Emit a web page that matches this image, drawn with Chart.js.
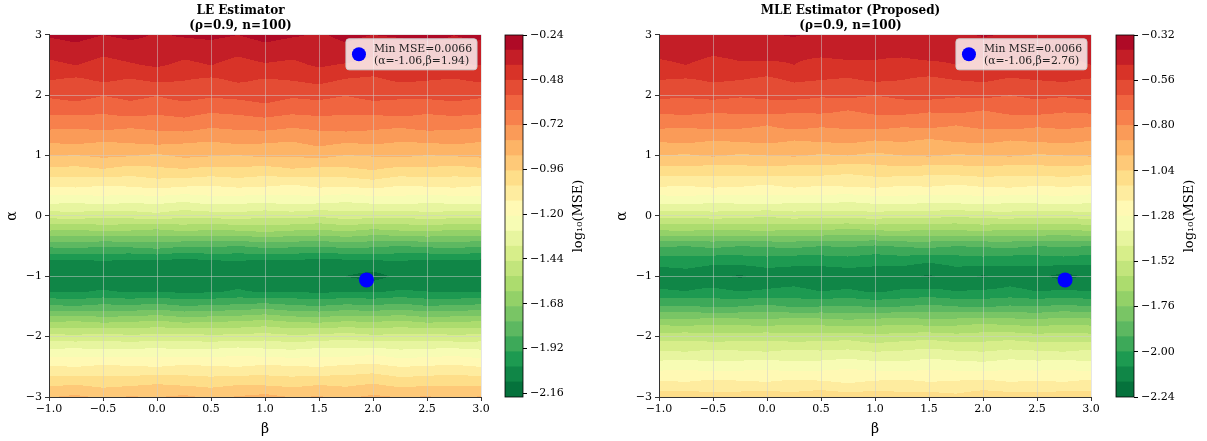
<!DOCTYPE html>
<html>
<head>
<meta charset="utf-8">
<script src="https://cdn.jsdelivr.net/npm/chart.js@4.4.0/dist/chart.umd.min.js"></script>
<style>
  body { margin: 0; background: #fff; }
  #wrap { position: relative; width: 1207px; height: 441px; overflow: hidden; }
  canvas { position: absolute; top: 0; }
</style>
</head>
<body>
<div id="wrap">
  <canvas id="leChart" width="530" height="441" style="left:0px"></canvas>
  <canvas id="mleChart" width="530" height="441" style="left:610px"></canvas>
  <canvas id="leBar" width="110" height="441" style="left:480px"></canvas>
  <canvas id="mleBar" width="117" height="441" style="left:1090px"></canvas>
</div>
<script>
// grid of the two surfaces, log10(MSE), rows = alpha, columns = beta
var betas = [-1, -0.75, -0.5, -0.25, 0, 0.25, 0.5, 0.75, 1, 1.25, 1.5, 1.75, 2, 2.25, 2.5, 2.75, 3];
var alphas = [3, 2.75, 2.5, 2.25, 2, 1.75, 1.5, 1.25, 1, 0.75, 0.5, 0.25, 0,
  -0.25, -0.5, -0.75, -1, -1.25, -1.5, -1.75, -2, -2.25, -2.5, -2.75, -3];

var leMse = [
  [-0.31, -0.29, -0.32, -0.30, -0.33, -0.31, -0.30, -0.32, -0.29, -0.31, -0.33, -0.30, -0.32, -0.31, -0.29, -0.32, -0.30],
  [-0.37, -0.35, -0.38, -0.36, -0.34, -0.37, -0.36, -0.38, -0.35, -0.37, -0.36, -0.34, -0.38, -0.36, -0.37, -0.35, -0.36],
  [-0.42, -0.40, -0.43, -0.41, -0.39, -0.42, -0.40, -0.43, -0.41, -0.42, -0.39, -0.41, -0.43, -0.40, -0.42, -0.41, -0.40],
  [-0.48, -0.50, -0.47, -0.49, -0.47, -0.48, -0.50, -0.47, -0.49, -0.48, -0.46, -0.49, -0.50, -0.47, -0.48, -0.49, -0.47],
  [-0.55, -0.53, -0.56, -0.54, -0.56, -0.53, -0.55, -0.54, -0.52, -0.55, -0.54, -0.56, -0.53, -0.55, -0.54, -0.53, -0.55],
  [-0.62, -0.61, -0.63, -0.60, -0.62, -0.61, -0.63, -0.62, -0.60, -0.62, -0.61, -0.63, -0.62, -0.60, -0.63, -0.61, -0.62],
  [-0.70, -0.71, -0.69, -0.71, -0.70, -0.68, -0.71, -0.70, -0.69, -0.71, -0.70, -0.68, -0.70, -0.71, -0.69, -0.70, -0.71],
  [-0.79, -0.78, -0.80, -0.79, -0.77, -0.79, -0.80, -0.78, -0.79, -0.80, -0.77, -0.79, -0.78, -0.80, -0.79, -0.78, -0.80],
  [-0.88, -0.89, -0.87, -0.88, -0.90, -0.87, -0.88, -0.89, -0.87, -0.88, -0.86, -0.89, -0.88, -0.87, -0.89, -0.88, -0.87],
  [-0.99, -1.00, -0.98, -1.01, -0.99, -0.98, -1.00, -0.99, -1.01, -0.98, -1.00, -0.99, -0.97, -1.00, -0.99, -1.01, -0.99],
  [-1.12, -1.11, -1.13, -1.12, -1.10, -1.12, -1.13, -1.11, -1.12, -1.14, -1.11, -1.12, -1.10, -1.13, -1.12, -1.11, -1.13],
  [-1.26, -1.27, -1.25, -1.27, -1.26, -1.28, -1.25, -1.26, -1.27, -1.25, -1.26, -1.28, -1.26, -1.25, -1.27, -1.26, -1.25],
  [-1.42, -1.41, -1.43, -1.42, -1.40, -1.43, -1.42, -1.41, -1.43, -1.42, -1.44, -1.41, -1.42, -1.43, -1.41, -1.42, -1.43],
  [-1.62, -1.63, -1.61, -1.62, -1.64, -1.61, -1.63, -1.62, -1.60, -1.62, -1.63, -1.61, -1.64, -1.62, -1.61, -1.63, -1.62],
  [-1.84, -1.83, -1.85, -1.84, -1.82, -1.85, -1.84, -1.86, -1.83, -1.84, -1.85, -1.83, -1.84, -1.86, -1.84, -1.83, -1.85],
  [-2.03, -2.04, -2.02, -2.04, -2.03, -2.05, -2.03, -2.02, -2.04, -2.03, -2.05, -2.04, -2.03, -2.02, -2.04, -2.03, -2.04],
  [-2.07, -2.06, -2.08, -2.07, -2.06, -2.08, -2.07, -2.06, -2.08, -2.07, -2.09, -2.10, -2.13, -2.08, -2.07, -2.06, -2.07],
  [-2.02, -2.03, -2.01, -2.03, -2.02, -2.04, -2.03, -2.01, -2.03, -2.02, -2.04, -2.02, -2.03, -2.01, -2.02, -2.03, -2.02],
  [-1.84, -1.85, -1.83, -1.84, -1.82, -1.85, -1.84, -1.83, -1.81, -1.84, -1.85, -1.83, -1.84, -1.82, -1.85, -1.84, -1.83],
  [-1.62, -1.61, -1.63, -1.62, -1.60, -1.63, -1.62, -1.61, -1.59, -1.62, -1.63, -1.61, -1.62, -1.60, -1.63, -1.62, -1.61],
  [-1.42, -1.43, -1.41, -1.43, -1.42, -1.41, -1.43, -1.42, -1.41, -1.43, -1.42, -1.40, -1.43, -1.42, -1.41, -1.43, -1.42],
  [-1.26, -1.25, -1.27, -1.26, -1.25, -1.27, -1.26, -1.24, -1.26, -1.27, -1.25, -1.26, -1.24, -1.27, -1.26, -1.25, -1.27],
  [-1.12, -1.13, -1.11, -1.12, -1.13, -1.11, -1.12, -1.13, -1.11, -1.12, -1.13, -1.11, -1.10, -1.13, -1.12, -1.11, -1.13],
  [-1.00, -0.99, -1.01, -1.00, -0.98, -1.00, -1.01, -0.99, -1.00, -1.01, -0.99, -1.00, -0.98, -1.01, -1.00, -0.99, -1.00],
  [-0.89, -0.87, -0.90, -0.88, -0.89, -0.87, -0.90, -0.88, -0.86, -0.89, -0.88, -0.90, -0.87, -0.89, -0.88, -0.90, -0.88]
];

var mleMse = [
  [-0.41, -0.43, -0.40, -0.42, -0.41, -0.39, -0.42, -0.40, -0.43, -0.41, -0.40, -0.42, -0.39, -0.41, -0.43, -0.40, -0.42],
  [-0.45, -0.44, -0.46, -0.45, -0.43, -0.46, -0.45, -0.44, -0.46, -0.45, -0.43, -0.45, -0.46, -0.44, -0.45, -0.47, -0.45],
  [-0.50, -0.48, -0.51, -0.49, -0.50, -0.48, -0.51, -0.50, -0.49, -0.51, -0.50, -0.48, -0.50, -0.51, -0.49, -0.50, -0.48],
  [-0.56, -0.57, -0.55, -0.56, -0.58, -0.55, -0.56, -0.57, -0.55, -0.56, -0.58, -0.56, -0.55, -0.57, -0.56, -0.55, -0.57],
  [-0.62, -0.63, -0.61, -0.63, -0.62, -0.61, -0.63, -0.62, -0.64, -0.62, -0.61, -0.63, -0.62, -0.64, -0.62, -0.63, -0.61],
  [-0.70, -0.69, -0.71, -0.70, -0.69, -0.71, -0.70, -0.72, -0.70, -0.69, -0.71, -0.70, -0.72, -0.70, -0.69, -0.71, -0.70],
  [-0.78, -0.79, -0.77, -0.78, -0.80, -0.77, -0.79, -0.78, -0.77, -0.79, -0.78, -0.80, -0.78, -0.77, -0.79, -0.78, -0.79],
  [-0.87, -0.86, -0.88, -0.87, -0.86, -0.88, -0.87, -0.86, -0.88, -0.87, -0.89, -0.87, -0.86, -0.88, -0.87, -0.86, -0.88],
  [-0.96, -0.97, -0.95, -0.97, -0.96, -0.95, -0.97, -0.96, -0.98, -0.96, -0.95, -0.97, -0.96, -0.95, -0.97, -0.96, -0.95],
  [-1.08, -1.07, -1.09, -1.08, -1.07, -1.09, -1.08, -1.10, -1.08, -1.07, -1.09, -1.08, -1.07, -1.09, -1.08, -1.07, -1.09],
  [-1.19, -1.20, -1.18, -1.19, -1.21, -1.18, -1.20, -1.19, -1.18, -1.20, -1.19, -1.21, -1.19, -1.18, -1.20, -1.19, -1.20],
  [-1.33, -1.32, -1.34, -1.33, -1.32, -1.34, -1.33, -1.35, -1.33, -1.32, -1.34, -1.33, -1.32, -1.34, -1.33, -1.32, -1.34],
  [-1.49, -1.50, -1.48, -1.49, -1.51, -1.48, -1.50, -1.49, -1.48, -1.50, -1.49, -1.51, -1.49, -1.48, -1.50, -1.49, -1.48],
  [-1.69, -1.68, -1.70, -1.69, -1.68, -1.70, -1.69, -1.71, -1.69, -1.68, -1.70, -1.69, -1.68, -1.70, -1.69, -1.70, -1.68],
  [-1.91, -1.92, -1.90, -1.92, -1.91, -1.90, -1.92, -1.91, -1.93, -1.91, -1.90, -1.92, -1.91, -1.90, -1.92, -1.91, -1.92],
  [-2.05, -2.04, -2.06, -2.05, -2.04, -2.06, -2.05, -2.04, -2.06, -2.05, -2.07, -2.05, -2.04, -2.06, -2.05, -2.04, -2.06],
  [-2.13, -2.12, -2.14, -2.17, -2.13, -2.12, -2.14, -2.13, -2.12, -2.14, -2.17, -2.13, -2.17, -2.12, -2.14, -2.19, -2.14],
  [-2.07, -2.08, -2.06, -2.08, -2.07, -2.06, -2.08, -2.07, -2.09, -2.07, -2.06, -2.08, -2.07, -2.06, -2.08, -2.07, -2.08],
  [-1.92, -1.91, -1.93, -1.92, -1.90, -1.93, -1.92, -1.91, -1.93, -1.92, -1.90, -1.92, -1.93, -1.91, -1.92, -1.90, -1.92],
  [-1.72, -1.73, -1.71, -1.72, -1.73, -1.71, -1.72, -1.74, -1.72, -1.71, -1.73, -1.72, -1.70, -1.72, -1.73, -1.71, -1.72],
  [-1.56, -1.55, -1.57, -1.56, -1.55, -1.57, -1.56, -1.55, -1.58, -1.56, -1.55, -1.57, -1.56, -1.55, -1.57, -1.56, -1.57],
  [-1.43, -1.44, -1.42, -1.43, -1.44, -1.42, -1.43, -1.42, -1.44, -1.43, -1.41, -1.43, -1.44, -1.42, -1.43, -1.44, -1.42],
  [-1.31, -1.30, -1.32, -1.31, -1.30, -1.32, -1.31, -1.29, -1.31, -1.32, -1.30, -1.31, -1.32, -1.30, -1.31, -1.30, -1.32],
  [-1.19, -1.20, -1.18, -1.19, -1.20, -1.18, -1.19, -1.21, -1.19, -1.18, -1.20, -1.19, -1.18, -1.20, -1.19, -1.20, -1.18],
  [-1.08, -1.07, -1.09, -1.08, -1.07, -1.09, -1.06, -1.08, -1.07, -1.09, -1.08, -1.10, -1.07, -1.08, -1.09, -1.07, -1.08]
];

// minimum found on each surface: [beta, alpha]
var leMinPoint = [1.94, -1.06];
var mleMinPoint = [2.76, -1.06];
var leMinMse = 0.0066;
var mleMinMse = 0.0066;

// colour bar ranges and ticks
var leRange = [-2.18, -0.24];
var mleRange = [-2.24, -0.32];
var leCbTicks = [-0.24, -0.48, -0.72, -0.96, -1.20, -1.44, -1.68, -1.92, -2.16];
var mleCbTicks = [-0.32, -0.56, -0.80, -1.04, -1.28, -1.52, -1.76, -2.00, -2.24];

var nBands = 24;

Chart.defaults.font.family = '"DejaVu Serif", serif';
Chart.defaults.color = '#000';

// RdYlGn colour map
var rdylgn = ['#a50026', '#d73027', '#f46d43', '#fdae61', '#fee08b', '#ffffbf',
  '#d9ef8b', '#a6d96a', '#66bd63', '#1a9850', '#006837'];

function hexRgb(h) {
  return [parseInt(h.substr(1, 2), 16), parseInt(h.substr(3, 2), 16), parseInt(h.substr(5, 2), 16)];
}

function cmap(p) {
  var s = Math.max(0, Math.min(1, p)) * 10;
  var i = Math.min(9, Math.floor(s));
  var f = s - i;
  var a = hexRgb(rdylgn[i]), b = hexRgb(rdylgn[i + 1]);
  return [0, 1, 2].map(function (k) { return Math.round(a[k] + (b[k] - a[k]) * f); });
}

// colour of each band, lowest value first (low -> green)
function bandColors() {
  var out = [];
  for (var k = 0; k < nBands; k++) {
    out.push(cmap(1 - (k + 0.5) / nBands));
  }
  return out;
}

function fmt(v, d) {
  var s = Math.abs(v).toFixed(d);
  return (v < -1e-9 ? '\u2212' : '') + s;
}

function locate(arr, v) {
  for (var i = 0; i < arr.length - 1; i++) {
    var a = arr[i], b = arr[i + 1];
    if ((v - a) * (v - b) <= 0) return [i, (v - a) / (b - a)];
  }
  return v * Math.sign(arr[1] - arr[0]) < arr[0] * Math.sign(arr[1] - arr[0]) ? [0, 0] : [arr.length - 2, 1];
}

function contourPlugin(z, range) {
  var cols = bandColors();
  return {
    id: 'contour',
    beforeDraw: function (chart) {
      var area = chart.chartArea, xs = chart.scales.x, ys = chart.scales.y;
      var x0 = Math.round(area.left), y0 = Math.round(area.top);
      var w = Math.round(area.right) - x0, h = Math.round(area.bottom) - y0;
      var img = chart.ctx.createImageData(w, h);
      var colLoc = [];
      for (var px = 0; px < w; px++) colLoc.push(locate(betas, xs.getValueForPixel(x0 + px + 0.5)));
      for (var py = 0; py < h; py++) {
        var r = locate(alphas, ys.getValueForPixel(y0 + py + 0.5));
        var ri = r[0], rf = r[1];
        for (px = 0; px < w; px++) {
          var c = colLoc[px], ci = c[0], cf = c[1];
          var top = z[ri][ci] + (z[ri][ci + 1] - z[ri][ci]) * cf;
          var bot = z[ri + 1][ci] + (z[ri + 1][ci + 1] - z[ri + 1][ci]) * cf;
          var v = top + (bot - top) * rf;
          var k = Math.floor((v - range[0]) / (range[1] - range[0]) * nBands);
          k = Math.max(0, Math.min(nBands - 1, k));
          var o = (py * w + px) * 4;
          img.data[o] = cols[k][0];
          img.data[o + 1] = cols[k][1];
          img.data[o + 2] = cols[k][2];
          img.data[o + 3] = 255;
        }
      }
      chart.ctx.putImageData(img, x0, y0);
    }
  };
}

function legendPlugin(point, mse) {
  return {
    id: 'minLegend',
    afterDatasetsDraw: function (chart) {
      var ctx = chart.ctx, area = chart.chartArea;
      var l1 = 'Min MSE=' + mse.toFixed(4);
      var l2 = '(\u03b1=' + point[1].toFixed(2) + ',\u03b2=' + point[0].toFixed(2) + ')';
      ctx.save();
      ctx.font = '10.8px "DejaVu Serif"';
      var tw = Math.max(ctx.measureText(l1).width, ctx.measureText(l2).width);
      var bw = tw + 33, bh = 31;
      var bx = area.right - 4 - bw, by = area.top + 4;
      ctx.beginPath();
      ctx.roundRect(bx, by, bw, bh, 3);
      ctx.fillStyle = 'rgba(255,255,255,0.8)';
      ctx.fill();
      ctx.strokeStyle = '#cccccc';
      ctx.lineWidth = 1;
      ctx.stroke();
      ctx.beginPath();
      ctx.arc(bx + 13, by + bh / 2, 7, 0, Math.PI * 2);
      ctx.fillStyle = '#0000ff';
      ctx.fill();
      ctx.fillStyle = '#222';
      ctx.textBaseline = 'middle';
      ctx.textAlign = 'left';
      ctx.fillText(l1, bx + 28, by + 10);
      ctx.fillText(l2, bx + 28, by + 22);
      ctx.restore();
    }
  };
}

function makeMain(id, title, z, range, point, mse) {
  return new Chart(document.getElementById(id), {
    type: 'scatter',
    data: {
      datasets: [{
        data: [{ x: point[0], y: point[1] }],
        pointRadius: 7.5,
        pointBackgroundColor: '#0000ff',
        pointBorderWidth: 0,
        clip: false
      }]
    },
    options: {
      responsive: false,
      animation: false,
      events: [],
      layout: { padding: { left: 0, right: 49, top: 0, bottom: 0 } },
      plugins: {
        legend: { display: false },
        tooltip: { enabled: false },
        title: {
          display: true,
          text: title,
          font: { size: 12, weight: 'bold' },
          padding: { top: 4, bottom: 2 },
          color: '#000'
        }
      },
      scales: {
        x: {
          type: 'linear',
          min: -1, max: 3,
          ticks: { stepSize: 0.5, callback: function (v) { return fmt(v, 1); }, font: { size: 11 }, padding: 2, maxRotation: 0 },
          grid: { color: 'rgba(205,205,205,0.5)', tickColor: '#333', tickLength: 4 },
          border: { color: '#333', width: 1 },
          title: { display: true, text: '\u03b2', font: { size: 14 }, padding: { top: 0, bottom: 3 } },
          afterFit: function (s) { s.height = 44; s.paddingLeft = 0; s.paddingRight = 0; }
        },
        y: {
          type: 'linear',
          min: -3, max: 3,
          ticks: { stepSize: 1, callback: function (v) { return fmt(v, 0); }, font: { size: 11 }, padding: 3 },
          grid: { color: 'rgba(205,205,205,0.5)', tickColor: '#333', tickLength: 4 },
          border: { color: '#333', width: 1 },
          title: { display: true, text: '\u03b1', font: { size: 14 }, padding: { top: 4, bottom: 0 } },
          afterFit: function (s) { s.width = 49; s.paddingTop = 0; s.paddingBottom = 0; }
        }
      }
    },
    plugins: [contourPlugin(z, range), legendPlugin(point, mse)]
  });
}

function makeBar(id, range, ticks, padLeft, axisWidth) {
  var cols = bandColors();
  var step = (range[1] - range[0]) / nBands;
  var sets = cols.map(function (c, k) {
    return {
      data: [[range[0] + k * step, range[0] + (k + 1) * step]],
      backgroundColor: 'rgb(' + c.join(',') + ')',
      borderWidth: 0,
      barPercentage: 1,
      categoryPercentage: 1,
      grouped: false
    };
  });
  return new Chart(document.getElementById(id), {
    type: 'bar',
    data: { labels: ['cb'], datasets: sets },
    options: {
      responsive: false,
      animation: false,
      events: [],
      layout: { padding: { left: padLeft, right: 0, top: 35, bottom: 44 } },
      plugins: { legend: { display: false }, tooltip: { enabled: false } },
      scales: {
        x: { display: false },
        y: {
          position: 'right',
          min: range[0], max: range[1],
          afterBuildTicks: function (s) { s.ticks = ticks.map(function (v) { return { value: v }; }); },
          ticks: { callback: function (v) { return fmt(v, 2); }, font: { size: 11 }, padding: 3 },
          grid: { drawOnChartArea: false, tickLength: 4, color: '#000' },
          border: { display: false },
          afterFit: function (s) { s.width = axisWidth; }
        }
      }
    },
    plugins: [{
      id: 'cbFrame',
      afterDraw: function (chart) {
        var ctx = chart.ctx, a = chart.chartArea;
        ctx.save();
        ctx.strokeStyle = '#000';
        ctx.lineWidth = 0.8;
        ctx.strokeRect(a.left, a.top, a.right - a.left, a.bottom - a.top);
        ctx.translate(a.right + 56, (a.top + a.bottom) / 2);
        ctx.rotate(-Math.PI / 2);
        ctx.font = '13px "DejaVu Serif"';
        ctx.fillStyle = '#000';
        ctx.textAlign = 'center';
        ctx.textBaseline = 'middle';
        ctx.fillText('log\u2081\u2080(MSE)', 0, 0);
        ctx.restore();
      }
    }]
  });
}

var leChart = makeMain('leChart', ['LE Estimator', '(\u03c1=0.9, n=100)'], leMse, leRange, leMinPoint, leMinMse);
var mleChart = makeMain('mleChart', ['MLE Estimator (Proposed)', '(\u03c1=0.9, n=100)'], mleMse, mleRange, mleMinPoint, mleMinMse);
var leBar = makeBar('leBar', leRange, leCbTicks, 25, 67);
var mleBar = makeBar('mleBar', mleRange, mleCbTicks, 26, 73);
</script>
</body>
</html>
